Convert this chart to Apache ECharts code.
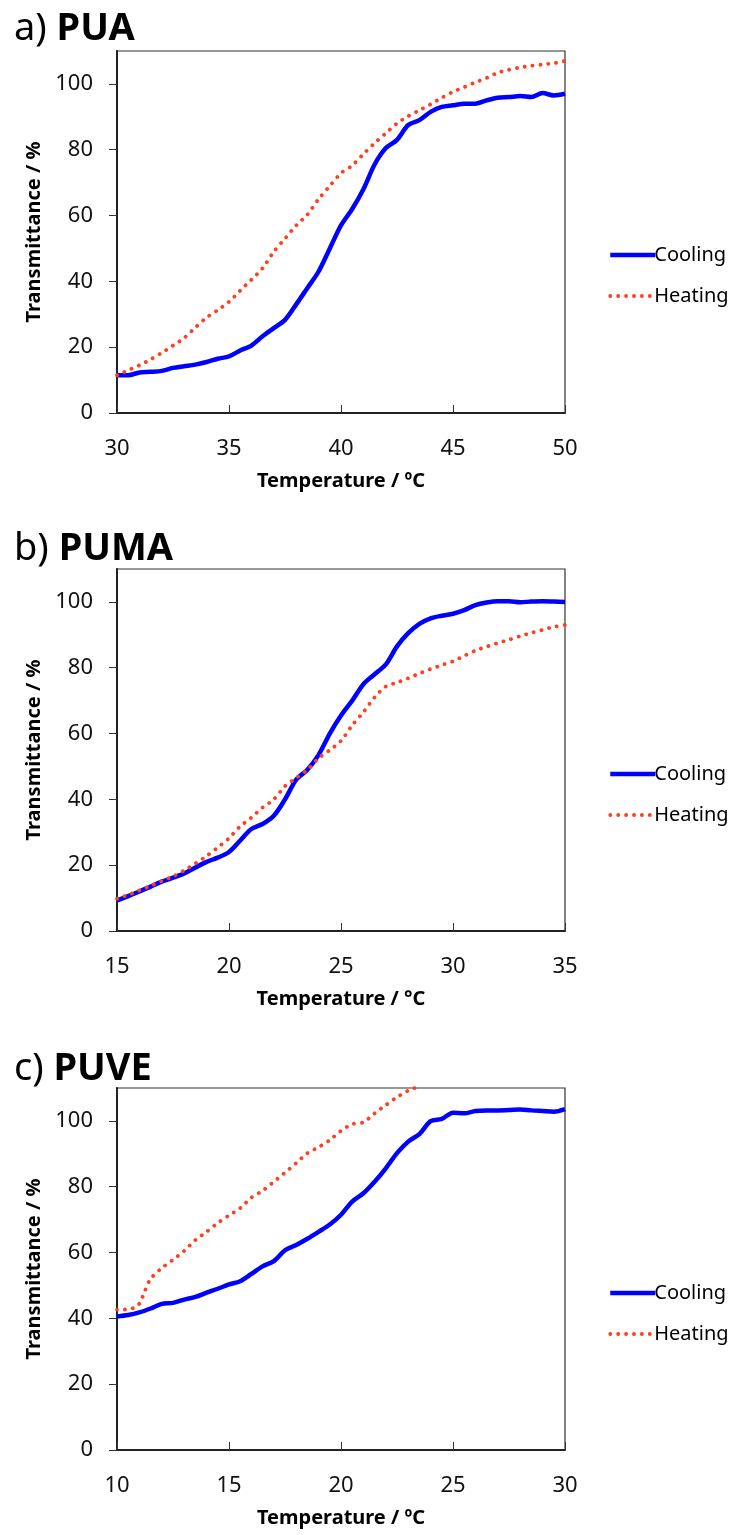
<!DOCTYPE html>
<html>
<head>
<meta charset="utf-8">
<script src="https://cdn.jsdelivr.net/npm/echarts@6/dist/echarts.min.js"></script>
<style>
html,body{margin:0;padding:0;background:#fff;}
#chart{width:734px;height:1535px;}
</style>
</head>
<body>
<div id="chart"></div>
<script>
// ---- data ----
const tempA = [30,30.5,31,31.5,32,32.5,33,33.5,34,34.5,35,35.5,36,36.5,37,37.5,38,38.5,39,39.5,40,40.5,41,41.5,42,42.5,43,43.5,44,44.5,45,45.5,46,46.5,47,47.5,48,48.5,49,49.5,50];
const coolingA = [11.5,11.5,12.3,12.5,12.8,13.7,14.2,14.7,15.5,16.5,17.2,19,20.5,23.3,25.8,28.3,33,38,43,50,57,62,68,75.5,80.5,83,87.5,89,91.5,93,93.5,94,94,95,95.8,96,96.3,96,97.2,96.5,97];
const heatingA = [11.5,13,14.5,16.3,18.3,20.5,22.8,26,29,31.3,33.8,37.2,40.5,44,49,53,57,60.3,65,69,72.9,75.2,78.7,82,85,88,90.2,92,93.8,95.8,97.6,99,100.5,101.8,103.4,104.3,105,105.5,105.9,106.3,107];

const tempB = [15,15.5,16,16.5,17,17.5,18,18.5,19,19.5,20,20.5,21,21.5,22,22.5,23,23.5,24,24.5,25,25.5,26,26.5,27,27.5,28,28.5,29,29.5,30,30.5,31,31.5,32,32.5,33,33.5,34,34.5,35];
const coolingB = [9.3,10.6,12,13.5,15,16.2,17.5,19.3,21,22.3,24,27.5,31,32.5,35,40,46,49,53.5,60,65.5,70,75,78,81,86.5,90.5,93.3,95,95.8,96.4,97.5,99,99.8,100.2,100.2,99.9,100.1,100.2,100.1,100];
const heatingB = [9.8,11,12.3,13.7,15.2,16.6,18.4,20.5,22.8,25.4,28.2,31.8,34.5,37.5,40,44,46.5,49,52.5,55,57.8,62.5,66.5,71,74.3,75.5,76.8,78.3,79.6,80.8,82,83.6,85.2,86.4,87.5,88.5,89.6,90.6,91.5,92.4,93];

const tempC = [10,10.5,11,11.5,12,12.5,13,13.5,14,14.5,15,15.5,16,16.5,17,17.5,18,18.5,19,19.5,20,20.5,21,21.5,22,22.5,23,23.5,24,24.5,25,25.5,26,26.5,27,27.5,28,28.5,29,29.5,30];
const coolingC = [40.6,41,41.8,43,44.4,44.7,45.7,46.5,47.8,49,50.3,51.3,53.5,55.8,57.4,60.7,62.3,64.2,66.3,68.5,71.5,75.5,78,81.5,85.6,90.2,93.7,96,99.9,100.6,102.5,102.3,103,103.2,103.2,103.3,103.5,103.2,103,102.8,103.6];
const tempHeatC = [10,10.5,10.75,11,11.25,11.5,12,12.5,13,13.5,14,14.5,15,15.5,16,16.5,17,17.5,18,18.5,19,19.5,20,20.5,21,21.5,22,22.5,23,23.5];
const heatingC = [42.7,42.7,43.2,44.5,48.4,52,55.3,57.8,60.5,63.8,66.3,69,71.3,73.5,76.7,78.8,81.5,84.3,87.2,90.2,92,94.2,97,99,99.6,102.3,104.8,107.2,109.2,110.5];

const yTicks = [0,20,40,60,80,100];
const panelLetters = ['a)', 'b)', 'c)'];
const panelNames = ['PUA', 'PUMA', 'PUVE'];
const xRanges = [[30,50],[15,35],[10,30]];
const xNames = ['Temperature / ºC', 'Temperature / °C', 'Temperature / ºC'];
const yName = 'Transmittance / %';
const seriesNames = ['Cooling', 'Heating'];

// ---- layout / style ----
const FONT = '"Noto Sans", "Open Sans", sans-serif';
const gridTops = [51, 569, 1088];
const gridH = 362;
const titleTops = [5, 525, 1045];
const legendTops = [238, 757, 1276];
const COOL_STYLE = {color: '#0000ff', width: 4.5};
const HEAT_STYLE = {color: '#ff4020', width: 3.8, type: [0.1, 7.8], cap: 'round'};

function pairs(xs, ys){ return xs.map((x,i)=>[x, ys[i]]); }
const coolData = [pairs(tempA,coolingA), pairs(tempB,coolingB), pairs(tempC,coolingC)];
const heatData = [pairs(tempA,heatingA), pairs(tempB,heatingB), pairs(tempHeatC,heatingC)];

const option = {
  animation: false,
  backgroundColor: '#fff',
  title: [0,1,2].map(i => ({
    left: 9, top: titleTops[i],
    text: '{n|' + panelLetters[i] + ' }{b|' + panelNames[i] + '}',
    textStyle: {
      rich: {
        n: {fontSize: 38, fontWeight: 'normal', fontFamily: FONT, color: '#000'},
        b: {fontSize: 38, fontWeight: 'bold', fontFamily: FONT, color: '#000'}
      }
    }
  })),
  legend: [0,1,2].map(i => ({
    orient: 'vertical', left: 603, top: legendTops[i],
    itemWidth: 45, itemHeight: 14, itemGap: 17,
    data: [
      {name: seriesNames[0], lineStyle: {width: COOL_STYLE.width}},
      {name: seriesNames[1], lineStyle: {width: HEAT_STYLE.width}}
    ],
    itemStyle: {opacity: 0},
    textStyle: {fontSize: 20, fontFamily: FONT, color: '#000', lineHeight: 24, padding: [0,0,0,-6]}
  })),
  grid: [0,1,2].map(i => ({
    left: 117, top: gridTops[i], width: 448, height: gridH,
    show: true, borderColor: '#333', borderWidth: 1.2, backgroundColor: 'transparent'
  })),
  xAxis: [0,1,2].map(i => ({
    type: 'value', gridIndex: i, min: xRanges[i][0], max: xRanges[i][1], interval: 5,
    name: xNames[i], nameLocation: 'middle', nameGap: 58,
    nameTextStyle: {fontSize: 20, fontWeight: 'bold', fontFamily: FONT, color: '#000'},
    axisLine: {show: true, onZero: false, lineStyle: {color: '#222', width: 2}},
    axisTick: {show: true, inside: true, length: 8, lineStyle: {color: '#333', width: 1}},
    axisLabel: {fontSize: 22, fontFamily: FONT, color: '#111', margin: 25},
    splitLine: {show: false}
  })),
  yAxis: [0,1,2].map(i => ({
    type: 'value', gridIndex: i, min: 0, max: 110,
    name: yName, nameLocation: 'middle', nameGap: 54,
    nameTextStyle: {fontSize: 20, fontWeight: 'bold', fontFamily: FONT, color: '#000'},
    axisLine: {show: true, lineStyle: {color: '#222', width: 2}},
    axisTick: {show: true, inside: false, length: 8, customValues: yTicks, lineStyle: {color: '#333', width: 1}},
    axisLabel: {fontSize: 22, fontFamily: FONT, color: '#111', margin: 24, customValues: yTicks},
    splitLine: {show: false}
  })),
  series: []
};

[0,1,2].forEach(i => {
  option.series.push({
    name: 'Cooling', type: 'line', xAxisIndex: i, yAxisIndex: i,
    data: coolData[i], symbol: 'none', smooth: 0.3, clip: true, z: 3,
    lineStyle: COOL_STYLE,
    itemStyle: {color: COOL_STYLE.color}
  });
  option.series.push({
    name: 'Heating', type: 'line', xAxisIndex: i, yAxisIndex: i,
    data: heatData[i], symbol: 'none', smooth: 0.3, clip: true, z: 4,
    lineStyle: HEAT_STYLE,
    itemStyle: {color: HEAT_STYLE.color}
  });
});

const chart = echarts.init(document.getElementById('chart'), null, {renderer: 'canvas'});
chart.setOption(option);
</script>
</body>
</html>
